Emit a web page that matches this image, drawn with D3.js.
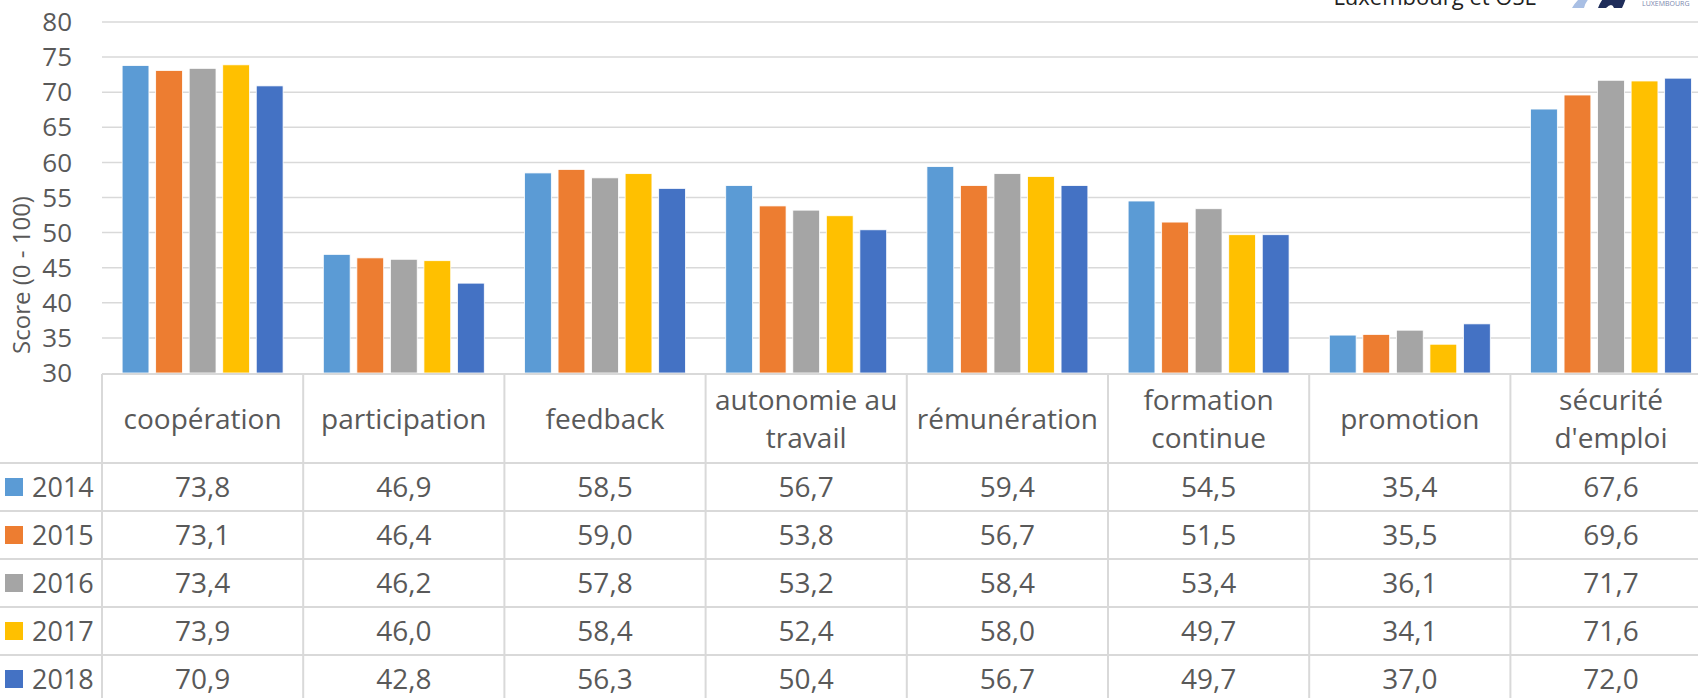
<!DOCTYPE html>
<html>
<head>
<meta charset="utf-8">
<script src="https://cdn.jsdelivr.net/npm/d3@7"></script>
<style>
  body { margin: 0; background: #fff; overflow: hidden; }
  text { font-family: "Open Sans", "Noto Sans", sans-serif; fill: #595959; }
</style>
</head>
<body>
<div id="chart-area"></div>
<script>
// data
var categories = ["coopération", "participation", "feedback", "autonomie au travail",
                  "rémunération", "formation continue", "promotion", "sécurité d'emploi"];
var catLines = [["coopération"], ["participation"], ["feedback"], ["autonomie au", "travail"],
                ["rémunération"], ["formation", "continue"], ["promotion"], ["sécurité", "d'emploi"]];
var years = ["2014", "2015", "2016", "2017", "2018"];
var v2014 = [73.8, 46.9, 58.5, 56.7, 59.4, 54.5, 35.4, 67.6];
var v2015 = [73.1, 46.4, 59.0, 53.8, 56.7, 51.5, 35.5, 69.6];
var v2016 = [73.4, 46.2, 57.8, 53.2, 58.4, 53.4, 36.1, 71.7];
var v2017 = [73.9, 46.0, 58.4, 52.4, 58.0, 49.7, 34.1, 71.6];
var v2018 = [70.9, 42.8, 56.3, 50.4, 56.7, 49.7, 37.0, 72.0];
var yTicks = [30, 35, 40, 45, 50, 55, 60, 65, 70, 75, 80];
var colors = ["#5B9BD5", "#ED7D31", "#A5A5A5", "#FFC000", "#4472C4"];

var series = [v2014, v2015, v2016, v2017, v2018];

var width = 1698, height = 698;
var left = 102, colW = 201.2;
var plotTop = 22, plotBottom = 373;
var headerBottom = 463, rowH = 48;

var svg = d3.select("#chart-area").append("svg")
    .attr("width", width)
    .attr("height", height);

var x0 = d3.scaleBand()
    .domain(categories)
    .range([left, left + colW * categories.length])
    .paddingInner(0.2)
    .paddingOuter(0.1);

var x1 = d3.scaleBand()
    .domain(years)
    .range([0, x0.bandwidth()])
    .paddingInner(0.2);

var y = d3.scaleLinear()
    .domain([30, 80])
    .range([plotBottom, plotTop]);

var fmt = function(v) { return d3.format(".1f")(v).replace(".", ","); };

// gridlines
svg.append("g").selectAll("line")
    .data(yTicks.slice(1))
    .enter().append("line")
    .attr("x1", left).attr("x2", width)
    .attr("y1", d => y(d)).attr("y2", d => y(d))
    .attr("stroke", "#d9d9d9").attr("stroke-width", 1.5);

// y axis labels
svg.append("g").selectAll("text")
    .data(yTicks)
    .enter().append("text")
    .attr("x", 72)
    .attr("y", d => y(d))
    .attr("dy", "0.35em")
    .attr("text-anchor", "end")
    .style("font-size", "26px")
    .text(d => d);

svg.append("text")
    .attr("transform", "translate(30," + 275 + ") rotate(-90)")
    .attr("text-anchor", "middle")
    .style("font-size", "24px")
    .text("Score (0 - 100)");

// bars
var groups = svg.append("g").selectAll("g")
    .data(categories)
    .enter().append("g")
    .attr("transform", d => "translate(" + x0(d) + ",0)");

groups.selectAll("rect")
    .data((d, i) => years.map((yr, j) => ({ year: yr, value: series[j][i], j: j })))
    .enter().append("rect")
    .attr("x", d => x1(d.year))
    .attr("width", x1.bandwidth())
    .attr("y", d => y(d.value))
    .attr("height", d => y(30) - y(d.value))
    .attr("fill", d => colors[d.j])
    .attr("stroke", "#fff")
    .attr("stroke-width", 0.8);

// data table
var table = svg.append("g");
var gridColor = "#d9d9d9";
var tableRight = left + colW * categories.length;

table.append("line")
    .attr("x1", left).attr("x2", tableRight)
    .attr("y1", plotBottom + 1).attr("y2", plotBottom + 1)
    .attr("stroke", gridColor).attr("stroke-width", 2);

d3.range(years.length + 1).forEach(function(r) {
    var yy = headerBottom + r * rowH;
    table.append("line")
        .attr("x1", 0).attr("x2", tableRight)
        .attr("y1", yy).attr("y2", yy)
        .attr("stroke", gridColor).attr("stroke-width", 2);
});

d3.range(categories.length + 1).forEach(function(c) {
    var xx = left + c * x0.step();
    table.append("line")
        .attr("x1", xx).attr("x2", xx)
        .attr("y1", plotBottom + 1).attr("y2", height)
        .attr("stroke", gridColor).attr("stroke-width", 2);
});

// header labels
categories.forEach(function(cat, i) {
    var cx = x0(cat) + x0.bandwidth() / 2;
    var lines = catLines[i];
    var lh = 38;
    var y0 = (plotBottom + headerBottom) / 2 - (lines.length - 1) * lh / 2 + 1;
    var t = table.append("text")
        .attr("text-anchor", "middle")
        .style("font-size", "28px");
    lines.forEach(function(l, k) {
        t.append("tspan").attr("x", cx).attr("y", y0 + k * lh).attr("dy", "0.35em").text(l);
    });
});

// rows
years.forEach(function(yr, j) {
    var cy = headerBottom + j * rowH + rowH / 2;
    table.append("rect")
        .attr("x", 5).attr("y", cy - 9)
        .attr("width", 18).attr("height", 18)
        .attr("fill", colors[j]);
    table.append("text")
        .attr("x", 32).attr("y", cy).attr("dy", "0.36em")
        .style("font-size", "27px")
        .text(yr);
    categories.forEach(function(cat, i) {
        table.append("text")
            .attr("x", x0(cat) + x0.bandwidth() / 2)
            .attr("y", cy).attr("dy", "0.36em")
            .attr("text-anchor", "middle")
            .style("font-size", "28px")
            .text(fmt(series[j][i]));
    });
});

// clipped source / logo at the top right
svg.append("text")
    .attr("x", 1536).attr("y", 5)
    .attr("text-anchor", "end")
    .style("font-size", "22px")
    .style("fill", "#222")
    .text("Luxembourg et OSL");

var logo = svg.append("g");
logo.append("path")
    .attr("d", "M1572,8 Q1580,-6 1596,-10 L1600,-10 Q1586,-2 1584,8 Z")
    .attr("fill", "#a9bfe4");
logo.append("path")
    .attr("d", "M1598,8 Q1604,-8 1618,-10 L1628,-10 Q1626,0 1622,8 L1614,8 Q1612,2 1606,8 Z")
    .attr("fill", "#1f2d5a");
logo.append("text")
    .attr("x", 1642).attr("y", 6)
    .style("font-size", "7px")
    .style("fill", "#7b86ad")
    .text("LUXEMBOURG");
</script>
</body>
</html>
